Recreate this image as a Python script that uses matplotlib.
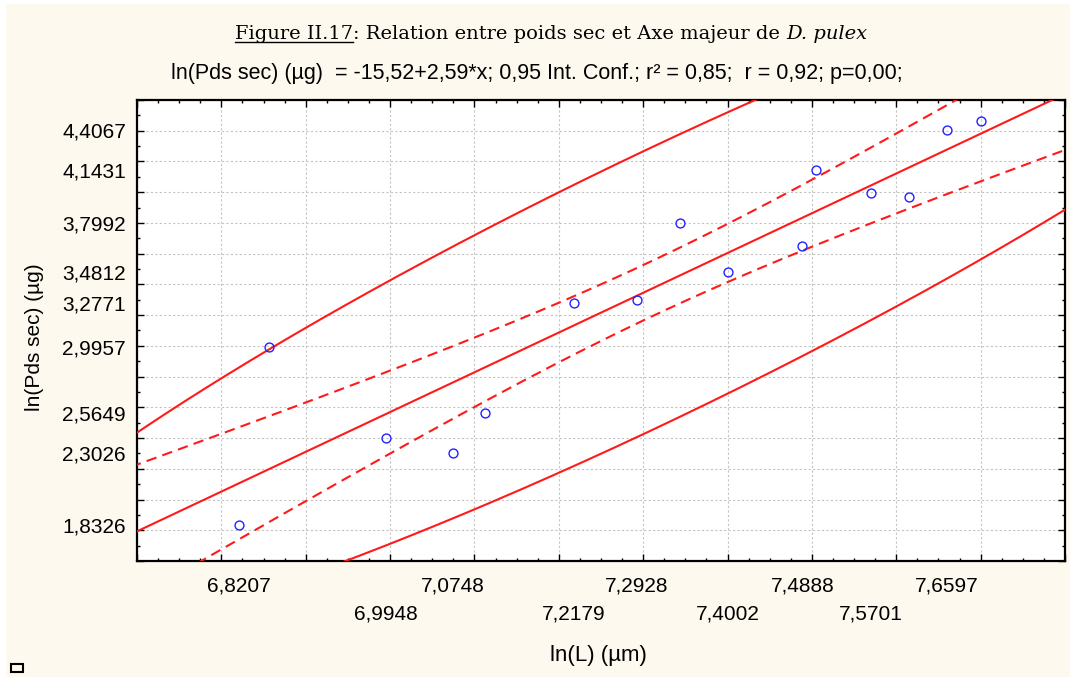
import numpy as np
import matplotlib
matplotlib.use("Agg")
import matplotlib.pyplot as plt
from matplotlib.patches import Rectangle
from matplotlib.lines import Line2D
from matplotlib.ticker import MultipleLocator

# ---------------- data ----------------
ln_L = [6.8207, 6.8563, 6.9948, 7.0748, 7.1130, 7.2179, 7.2928, 7.3433,
        7.4002, 7.4888, 7.5052, 7.5701, 7.6155, 7.6597, 7.7005]
ln_pds = [1.8326, 2.9957, 2.3979, 2.3026, 2.5649, 3.2771, 3.3000, 3.7992,
          3.4812, 3.6516, 4.1431, 3.9966, 3.9700, 4.4067, 4.4610]

x_ticks_row1 = [6.8207, 7.0748, 7.2928, 7.4888, 7.6597]
x_ticks_row2 = [6.9948, 7.2179, 7.4002, 7.5701]
y_ticks = [4.4067, 4.1431, 3.7992, 3.4812, 3.2771, 2.9957, 2.5649, 2.3026, 1.8326]

title_parts = ["Figure II.17", ": Relation entre poids sec et Axe majeur de ", "D. pulex"]
subtitle = "ln(Pds sec) (µg)  = -15,52+2,59*x; 0,95 Int. Conf.; r² = 0,85;  r = 0,92; p=0,00;"
xlabel = "ln(L) (µm)"
ylabel = "ln(Pds sec) (µg)"

t_crit = 2.1604   # Student t(0.975, df=13)
f_crit = 3.8056   # F(0.95; 2, 13)

def fmt(v):
    return f"{v:.4f}".replace(".", ",")

# ---------------- figure ----------------
W, H = 1070, 677
CREAM = "#FEF9EE"
fig = plt.figure(figsize=(W / 100, H / 100), dpi=100)
fig.patch.set_facecolor("white")
fig.add_artist(Rectangle((6 / W, 0), 1 - 6 / W, (H - 4) / H, transform=fig.transFigure,
                         facecolor=CREAM, edgecolor="none", zorder=-10))

ax = fig.add_axes([137 / W, 1 - 561 / H, (1065 - 137) / W, (561 - 100) / H])
ax.set_facecolor("white")
ax.set_xlim(6.7, 7.8)
ax.set_ylim(1.6, 4.6)

# regression, confidence band, prediction ellipse
x = np.array(ln_L)
y = np.array(ln_pds)
n = len(x)
b, a = np.polyfit(x, y, 1)
resid = y - (a + b * x)
s = np.sqrt(np.sum(resid ** 2) / (n - 2))
xm, ym = x.mean(), y.mean()
sxx = np.sum((x - xm) ** 2)
xs = np.linspace(6.6, 7.9, 400)
yf = a + b * xs
se_mean = s * np.sqrt(1 / n + (xs - xm) ** 2 / sxx)

RED = "#FF1A1A"
ax.plot(xs, yf, color=RED, lw=1.5, zorder=3)
ax.plot(xs, yf + t_crit * se_mean, color=RED, lw=1.5, ls=(0, (5, 3)), zorder=3)
ax.plot(xs, yf - t_crit * se_mean, color=RED, lw=1.5, ls=(0, (5, 3)), zorder=3)

cov = np.cov(x, y)
k = np.sqrt(2 * (n - 1) * (n + 1) / (n * (n - 2)) * f_crit)
L = np.linalg.cholesky(cov)
tt = np.linspace(0, 2 * np.pi, 1000)
ell = np.array([[xm], [ym]]) + k * L @ np.vstack([np.cos(tt), np.sin(tt)])
ax.plot(ell[0], ell[1], color=RED, lw=1.5, zorder=3)

ax.plot(x, y, ls="none", marker="o", ms=6.4, mfc="none", mec="#2222FF", mew=1.0, zorder=4)

# ticks / grid
ax.xaxis.set_major_locator(MultipleLocator(0.1))
ax.xaxis.set_minor_locator(MultipleLocator(0.025))
ax.yaxis.set_major_locator(MultipleLocator(0.2))
ax.yaxis.set_minor_locator(MultipleLocator(0.1))
ax.tick_params(which="both", direction="in", top=True, right=True,
               labelbottom=False, labelleft=False, color="black", width=1.0)
ax.tick_params(which="major", length=5)
ax.tick_params(which="minor", length=2.5)
ax.grid(True, which="major", color="#C4C4C4", ls=(0, (2, 2)), lw=0.8, zorder=0)
for sp in ax.spines.values():
    sp.set_linewidth(1.6)
    sp.set_color("black")

FS = 15
SANS = "Liberation Sans"

secy = ax.secondary_yaxis("left")
secy.set_yticks(y_ticks, labels=[fmt(v) for v in y_ticks])
secy.tick_params(length=0, pad=8)
secy.spines["left"].set_visible(False)
for lab in secy.get_yticklabels():
    lab.set_fontfamily(SANS)
    lab.set_fontsize(FS)

secx1 = ax.secondary_xaxis("bottom")
secx1.set_xticks(x_ticks_row1, labels=[fmt(v) for v in x_ticks_row1])
secx1.tick_params(length=0, pad=11)
secx1.spines["bottom"].set_visible(False)
secx2 = ax.secondary_xaxis("bottom")
secx2.set_xticks(x_ticks_row2, labels=[fmt(v) for v in x_ticks_row2])
secx2.tick_params(length=0, pad=31)
secx2.spines["bottom"].set_visible(False)
for sx in (secx1, secx2):
    for lab in sx.get_xticklabels():
        lab.set_fontfamily(SANS)
        lab.set_fontsize(FS)

# axis labels
fig.text(598 / W, 1 - 655 / H, xlabel, ha="center", va="center", family=SANS, size=16)
fig.text(35 / W, 1 - 337 / H, ylabel, ha="center", va="center", rotation=90, family=SANS, size=FS)

# subtitle
fig.text(537 / W, 1 - 74 / H, subtitle, ha="center", va="center", family=SANS, size=15.5)

# title built from pieces
TS = 14
SERIF = "DejaVu Serif"
ty = 1 - 34 / H
t1 = fig.text(0, ty, title_parts[0], ha="left", va="center", family=SERIF, size=TS)
t2 = fig.text(0, ty, title_parts[1], ha="left", va="center", family=SERIF, size=TS)
t3 = fig.text(0, ty, title_parts[2], ha="left", va="center", family=SERIF, size=TS, style="italic")
fig.canvas.draw()
r = fig.canvas.get_renderer()
w1 = t1.get_window_extent(r).width
w2 = t2.get_window_extent(r).width
w3 = t3.get_window_extent(r).width
start = 551 - (w1 + w2 + w3) / 2
t1.set_x(start / W)
t2.set_x((start + w1) / W)
t3.set_x((start + w1 + w2) / W)
fig.canvas.draw()
bb = t1.get_window_extent(r)
uy = bb.y0 + 1
fig.add_artist(Line2D([bb.x0 / W, bb.x1 / W], [uy / H, uy / H], transform=fig.transFigure,
                      color="black", lw=1.0))

# small square marker bottom-left
fig.add_artist(Rectangle((11 / W, 1 - 672 / H), 12 / W, 8 / H, transform=fig.transFigure,
                         fill=False, edgecolor="black", lw=1.5))

fig.savefig("out.png", dpi=100, facecolor=fig.get_facecolor())
